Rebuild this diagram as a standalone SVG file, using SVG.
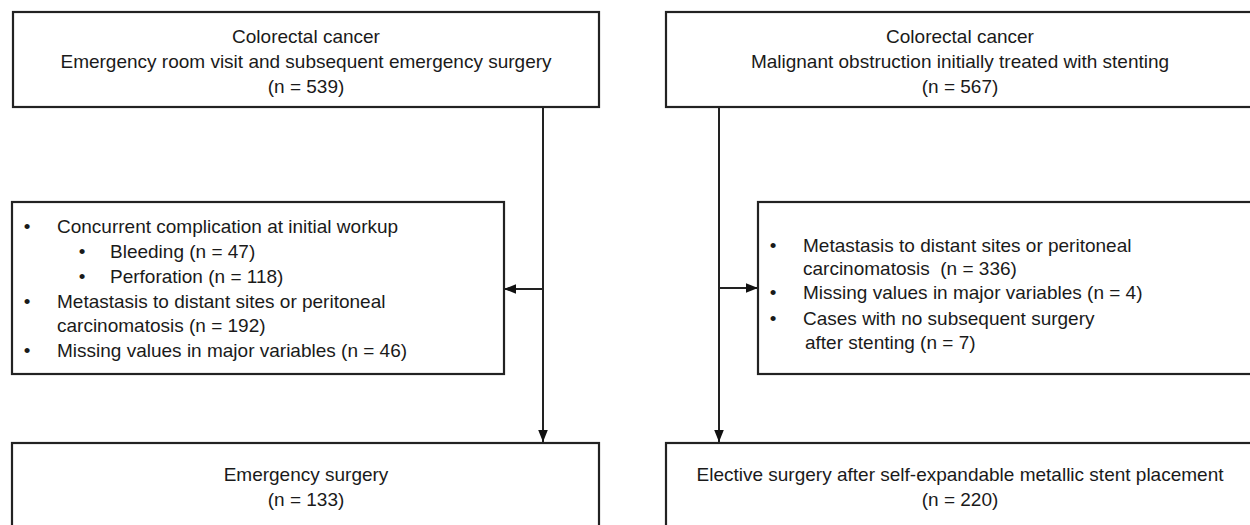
<svg xmlns="http://www.w3.org/2000/svg" width="1250" height="525" viewBox="0 0 1250 525">
<defs>
<style>
.box{fill:#fff;stroke:#222;stroke-width:2.2}
.t{font-family:"Liberation Sans",Arial,sans-serif;font-size:19px;fill:#1a1a1a}
.c{text-anchor:middle}
.b{text-anchor:middle}
.ln{fill:none;stroke:#222;stroke-width:2}
</style>
<marker id="ah" markerUnits="userSpaceOnUse" markerWidth="12" markerHeight="12" viewBox="0 0 10 10" refX="10" refY="5" orient="auto">
<path d="M0,1 L10,5 L0,9 Z" fill="#111"/>
</marker>
</defs>
<rect width="1250" height="525" fill="#fff"/>

<g id="connectors">
<line class="ln" x1="543" y1="107" x2="543" y2="442" marker-end="url(#ah)"/>
<line class="ln" x1="543" y1="289" x2="504" y2="289" marker-end="url(#ah)"/>
<line class="ln" x1="719" y1="107" x2="719" y2="442" marker-end="url(#ah)"/>
<line class="ln" x1="719" y1="288" x2="758" y2="288" marker-end="url(#ah)"/>
</g>

<g id="top-left">
<rect class="box" x="13" y="12" width="586" height="95"/>
<text class="t c" x="306" y="43">Colorectal cancer</text>
<text class="t c" x="306" y="68">Emergency room visit and subsequent emergency surgery</text>
<text class="t c" x="306" y="93">(n = 539)</text>
</g>

<g id="top-right">
<rect class="box" x="666" y="12" width="600" height="95"/>
<text class="t c" x="960" y="43">Colorectal cancer</text>
<text class="t c" x="960" y="68">Malignant obstruction initially treated with stenting</text>
<text class="t c" x="960" y="93">(n = 567)</text>
</g>

<g id="exclusion-left">
<rect class="box" x="12" y="202" width="492" height="172"/>
<text class="t b" x="27" y="233">•</text>
<text class="t" x="57" y="233">Concurrent complication at initial workup</text>
<text class="t b" x="82" y="258">•</text>
<text class="t" x="110" y="258">Bleeding (n = 47)</text>
<text class="t b" x="82" y="283">•</text>
<text class="t" x="110" y="283">Perforation (n = 118)</text>
<text class="t b" x="27" y="308">•</text>
<text class="t" x="57" y="308">Metastasis to distant sites or peritoneal</text>
<text class="t" x="57" y="332">carcinomatosis (n = 192)</text>
<text class="t b" x="27" y="357">•</text>
<text class="t" x="57" y="357">Missing values in major variables (n = 46)</text>
</g>

<g id="exclusion-right">
<rect class="box" x="758" y="202" width="510" height="172"/>
<text class="t b" x="773" y="252">•</text>
<text class="t" x="803" y="252">Metastasis to distant sites or peritoneal</text>
<text class="t" x="803" y="275" xml:space="preserve">carcinomatosis  (n = 336)</text>
<text class="t b" x="773" y="299">•</text>
<text class="t" x="803" y="299">Missing values in major variables (n = 4)</text>
<text class="t b" x="773" y="325">•</text>
<text class="t" x="803" y="325">Cases with no subsequent surgery</text>
<text class="t" x="805" y="349">after stenting (n = 7)</text>
</g>

<g id="bottom-left">
<rect class="box" x="12" y="443" width="587" height="100"/>
<text class="t c" x="306" y="481">Emergency surgery</text>
<text class="t c" x="306" y="506">(n = 133)</text>
</g>

<g id="bottom-right">
<rect class="box" x="666" y="443" width="600" height="100"/>
<text class="t c" x="960" y="481">Elective surgery after self-expandable metallic stent placement</text>
<text class="t c" x="960" y="506">(n = 220)</text>
</g>
</svg>
